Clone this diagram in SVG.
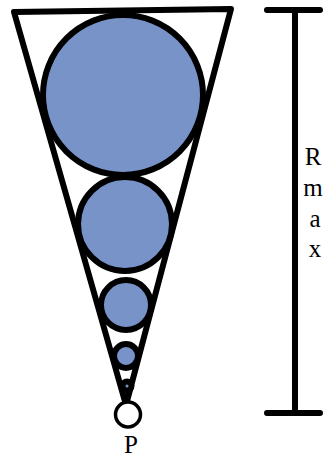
<svg xmlns="http://www.w3.org/2000/svg" width="323" height="458" viewBox="0 0 323 458">
<style>
.edge{stroke:#000;stroke-width:6;fill:none;stroke-linecap:round;stroke-linejoin:round}
.c{fill:#7893c8;stroke:#000;stroke-width:6}
.w{fill:#fff;stroke:#000;stroke-width:3.5}
.t{font-family:"Liberation Serif",serif;fill:#000;text-anchor:middle}
</style>
<rect width="323" height="458" fill="#fff"/>
<g id="cone"><path class="edge" d="M14,12 L231,9 L126,405 Z"/></g>
<g id="c1"><circle class="c" cx="123" cy="95" r="80"/></g>
<g id="c2"><circle class="c" cx="125" cy="224" r="47"/></g>
<g id="c3"><circle class="c" cx="126" cy="305" r="25"/></g>
<g id="c4"><circle class="c" cx="126" cy="356" r="12" stroke-width="5"/></g>
<g id="c5"><circle class="c" cx="127" cy="386" r="4.5" stroke-width="3"/></g>
<g id="P"><circle class="w" cx="128" cy="414.5" r="12.5"/><text class="t" x="131" y="453" font-size="25">P</text></g>
<g id="range">
<path class="edge" d="M295,10 V413 M267,10 H320 M267,413 H320"/>
<text class="t" font-size="25"><tspan x="313" y="165">R</tspan><tspan x="313" y="196">m</tspan><tspan x="315" y="227">a</tspan><tspan x="315" y="257">x</tspan></text>
</g>
</svg>
